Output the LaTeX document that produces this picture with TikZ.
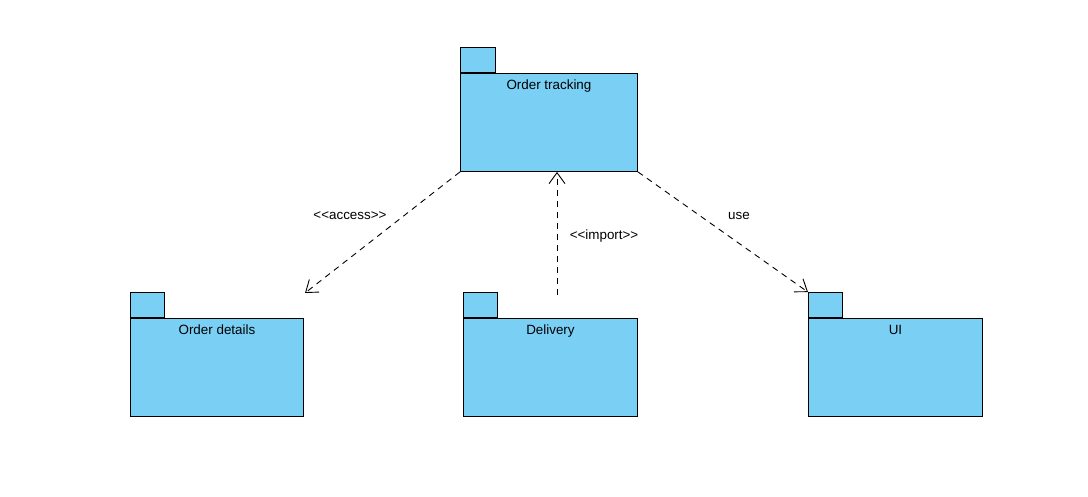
\documentclass[tikz,border=0pt]{standalone}
\usepackage{fontspec}
\setmainfont{Liberation Sans}
\usetikzlibrary{arrows.meta}
\definecolor{pkgblue}{RGB}{122,207,245}
\begin{document}
\begin{tikzpicture}[x=1pt,y=-1pt,line width=0.9pt,
  every node/.style={font=\fontsize{13.4}{15}\selectfont},
  pkg/.style={draw,fill=pkgblue,anchor=north west,inner sep=0pt,minimum height=98pt},
  tab/.style={draw,fill=pkgblue,anchor=south west,inner sep=0pt,minimum width=34pt,minimum height=25pt},
  dep/.style={dash pattern=on 6pt off 5pt,-{Straight Barb[length=11pt,width=16pt]}}]
\useasboundingbox (0,0) rectangle (1088,496);
\node [pkg,minimum width=177pt,label={[anchor=north,yshift=-3pt]north:Order tracking}] (ot) at (460,73) {};
\node [tab,minimum width=35pt] (ottab) at (ot.north west) {};
\foreach \n/\x/\w/\t in {det/130/173/Order details,del/463/174/Delivery,ui/808/174/UI}{
\node [pkg,minimum width=\w pt,label={[anchor=north,yshift=-3pt]north:\t}] (\n) at (\x,318) {};
\node [tab] (\n tab) at (\n.north west) {};
}
\coordinate (accend) at (305,293);
\coordinate (impstart) at (557,295);
\draw [dep] (ot.south west) -- (accend) node [pos=0.45,above left,yshift=3pt] {<{}<access>{}>};
\draw [dep] (impstart) -- (impstart |- ot.south) node [pos=0.48,right=9pt] {<{}<import>{}>};
\draw [dep] (ot.south east) -- (uitab.north west) node [pos=0.5,above=9pt,xshift=16pt] {use};
\end{tikzpicture}
\end{document}
